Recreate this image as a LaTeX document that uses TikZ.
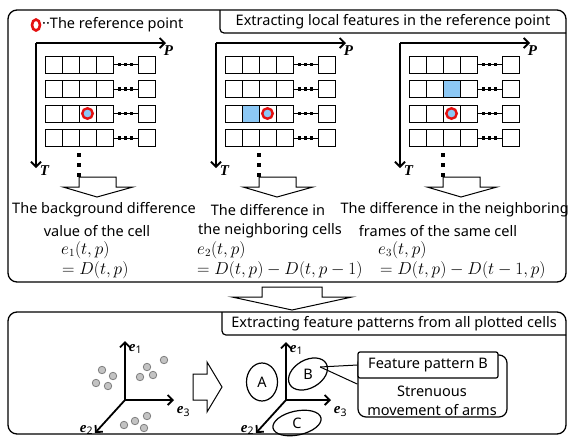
\documentclass[tikz,border=0pt]{standalone}
\usepackage{amsmath}
\usepackage{fontspec}
\setmainfont{Noto Sans}
\newfontfamily\axisfont{Liberation Serif}
\usetikzlibrary{arrows.meta,positioning,shapes.geometric,calc}

\definecolor{cellblue}{RGB}{140,200,245}
\definecolor{ringred}{RGB}{228,16,16}
\definecolor{dotgray}{RGB}{195,195,195}

\tikzset{
  panel/.style={draw, line width=1.3pt, rounded corners=9pt},
  titlebox/.style={draw, line width=1.2pt, rounded corners=4pt},
  cell/.style={draw, line width=0.8pt, minimum size=17pt, inner sep=0pt},
  axis/.style={line width=1.8pt, -{Straight Barb[length=5pt,width=10pt]}},
  refring/.style={circle, draw=ringred, line width=2.4pt, fill=cellblue, minimum size=10.5pt, inner sep=0pt},
  txt/.style={font=\fontsize{14.5}{16}\selectfont, inner sep=0pt},
  eqn/.style={font=\fontsize{16}{18}\selectfont, inner sep=0pt, anchor=west},
  axlabel/.style={font=\fontsize{15}{16}\selectfont\axisfont\bfseries\itshape, inner sep=0pt},
  hollow/.style={draw, line width=1pt, fill=white},
  sample/.style={circle, draw=gray, fill=dotgray, line width=0.8pt, minimum size=7.5pt, inner sep=0pt},
  cluster/.style={ellipse, draw, line width=1.2pt, inner sep=0pt},
}

\begin{document}
\begin{tikzpicture}[x=1pt, y=-1pt]
  \useasboundingbox (0,0) rectangle (571,437);

  % upper panel
  \draw[panel] (8,10) rectangle (566,282);
  \draw[titlebox] (220,10) |- (566,33);
  \node[txt] (title1) at (393,21.5) {Extracting local features in the reference point};
  \node[ellipse, draw=ringred, line width=2.6pt, fill=white, minimum width=8pt, minimum height=11pt, inner sep=0pt] (legendring) at (36,25) {};
  \node[txt, anchor=west] (legendtxt) at (42,25) {··The reference point};

  % three cell grids
  \foreach \g/\ax in {1/36,2/216,3/400} {
    \coordinate (o\g) at (\ax,43);
    \foreach \r in {1,...,4} {
      \foreach \c in {1,...,4}
        \node[cell] (g\g-\r-\c) at ({\ax+17.5+17*(\c-1)},{64.5+24.5*(\r-1)}) {};
      \node[cell] (g\g-\r-5) at ({\ax+110.5},{64.5+24.5*(\r-1)}) {};
      \draw[line width=0.8pt] (g\g-\r-4.east) -- (g\g-\r-5.west);
      \foreach \k in {1,2,3}
        \fill ($(g\g-\r-4.east)!{\k/4}!(g\g-\r-5.west)$) +(-1.8,-1.8) rectangle +(1.8,1.8);
    }
    \draw[axis] (o\g) -- ++(130,0) node[axlabel, anchor=north west, xshift=-3pt, yshift=-2pt] {P};
    \draw[axis] (o\g) -- ++(0,125) node[axlabel, anchor=west, xshift=3pt, yshift=-3pt] {T};
    \foreach \yy in {155,165,175}
      \fill (\ax+43,\yy) +(-1.8,-1.8) rectangle +(1.8,1.8);
    \draw[hollow] (\ax+43,177) -- ++(37,0) -- ++(0,10) -- ++(17,0) -- (\ax+61,197)
      -- (\ax+27,187) -- (\ax+43,187) -- cycle;
  }

  % highlighted cells and reference points
  \node[cell, fill=cellblue] at (g2-3-2) {};
  \node[cell, fill=cellblue] at (g3-2-3) {};
  \foreach \g in {1,2,3}
    \node[refring] (ring\g) at (g\g-3-3) {};

  % descriptions
  \node[txt] (bg1) at (104,210) {The background difference};
  \node[txt] (bg2) at (97,231) {value of the cell};
  \node[eqn] (eq1a) at (61,250) {$e_1(t,p)$};
  \node[eqn] (eq1b) at (62,270) {$= D(t,p)$};

  \node[txt] (nc1) at (268,210) {The difference in};
  \node[txt] (nc2) at (270,231) {the neighboring cells};
  \node[eqn] (eq2a) at (197,250) {$e_2(t,p)$};
  \node[eqn] (eq2b) at (197,270) {$= D(t,p) - D(t,p-1)$};

  \node[txt, anchor=east] (nf1) at (569,210) {The difference in the neighboring};
  \node[txt] (nf2) at (438,231) {frames of the same cell};
  \node[eqn] (eq3a) at (378,250) {$e_3(t,p)$};
  \node[eqn] (eq3b) at (380,270) {$= D(t,p) - D(t-1,p)$};

  % arrow between panels
  \draw[hollow] (262,287) -- (322,287) -- (322,297) -- (352,297) -- (292,310)
    -- (232,297) -- (262,297) -- cycle;

  % lower panel
  \draw[panel] (8,312) rectangle (566,434);
  \draw[titlebox] (222,312) |- (566,335);
  \node[txt] (title2) at (394,323.5) {Extracting feature patterns from all plotted cells};

  % plotted cells
  \foreach \px/\py in {102/370,113/376,96/383,108/386,147/367,164/360,153/375,140/377,
                       147/416,135/421,124/425,144/428}
    \node[sample] at (\px,\py) {};
  \coordinate (s0) at (125,400);
  \draw[axis] (s0) -- (125,341) node[axlabel, anchor=west, xshift=3pt, yshift=-8pt] {e$_{\mathbf 1}$};
  \draw[axis] (s0) -- (174,400) node[axlabel, anchor=north west, xshift=2pt, yshift=-6pt] {e$_{\mathbf 3}$};
  \draw[axis] (s0) -- (95,433) node[axlabel, anchor=east, xshift=-1pt, yshift=3pt] {e$_{\mathbf 2}$};

  \draw[hollow] (193,374) -- (207,374) -- (207,362) -- (222,387) -- (207,412)
    -- (207,400) -- (193,400) -- cycle;

  % feature space with clusters
  \coordinate (f0) at (286,400);
  \draw[axis] (f0) -- (286,342) node[axlabel, anchor=west, xshift=3pt, yshift=-8pt] {e$_{\mathbf 1}$};
  \draw[axis] (f0) -- (331,400) node[axlabel, anchor=north west, xshift=2pt, yshift=-6pt] {e$_{\mathbf 3}$};
  \draw[axis] (f0) -- (256,433) node[axlabel, anchor=east, xshift=-1pt, yshift=3pt] {e$_{\mathbf 2}$};

  \node[cluster, minimum width=31pt, minimum height=38pt, txt] (A) at (262,382) {A};
  \node[cluster, minimum width=42pt, minimum height=28pt, rotate=30] (B) at (308,374) {};
  \node[txt] (Blab) at (B.center) {B};
  \node[cluster, minimum width=49pt, minimum height=24pt, rotate=12] (C) at (297,423) {};
  \node[txt] (Clab) at (C.center) {C};

  % pattern note
  \node[draw, line width=1.2pt, rounded corners=8pt, minimum width=149pt, minimum height=62pt]
    (armsnote) at (432.5,386) {};
  \node[txt, align=center] (armstxt) at (432,401) {Strenuous\\[3pt]movement of arms};
  \node[draw, line width=1.2pt, fill=white, rounded corners=2pt, minimum width=140pt,
        minimum height=26pt, txt] (patB) at (428,365) {Feature pattern B};
  \coordinate (Bpin) at ($(B.center)!0.65!(B.east)$);
  \coordinate (notepin) at ($(armsnote.north west)!0.47!(armsnote.south west)$);
  \draw[line width=1pt] (Bpin) -- (patB.west);
  \draw[line width=1pt] (Bpin) -- (notepin);
\end{tikzpicture}
\end{document}
